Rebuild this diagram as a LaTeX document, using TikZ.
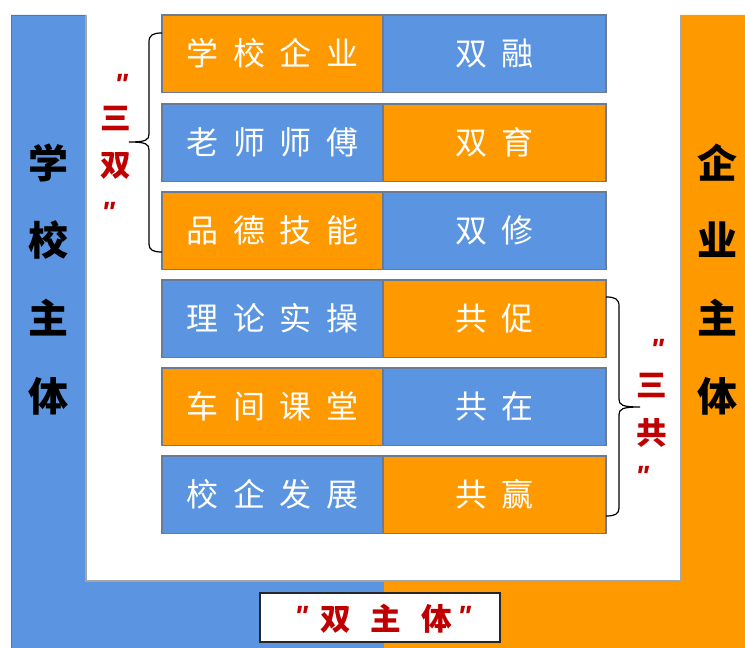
\documentclass[tikz,border=0pt]{standalone}
\usepackage{fontspec}
\newfontfamily\cjk{Noto Sans CJK SC}
\newfontfamily\qf{Liberation Sans}
\definecolor{myblue}{HTML}{5B95E1}
\definecolor{bluedark}{HTML}{4A78B8}
\definecolor{myorange}{HTML}{FF9900}
\definecolor{myred}{HTML}{C00000}
\definecolor{cellline}{HTML}{6B7B95}
\newcommand\sk{\hspace{11pt}}
\newcommand\skb{\hspace{15pt}}
\begin{document}
\begin{tikzpicture}[x=0.75pt,y=-0.75pt,
  cell/.style={draw=cellline, line width=1.1pt, inner sep=0pt, outer sep=0pt,
    minimum height=58pt, anchor=north west, text=white,
    font=\cjk\fontsize{24}{28}\selectfont},
  lcell/.style={cell, minimum width=165.75pt},
  rcell/.style={cell, minimum width=167.25pt},
  sidelabel/.style={inner sep=0pt, font=\cjk\bfseries\fontsize{30}{34}\selectfont, text=black},
  redlabel/.style={inner sep=0pt, font=\cjk\bfseries\fontsize{23}{26}\selectfont, text=myred},
  quotemark/.style={inner sep=0pt, anchor=north, font=\qf\bfseries\itshape\fontsize{22}{24}\selectfont, text=myred},
  bracestyle/.style={draw=black, line width=0.9pt}
]
\useasboundingbox (0,0) rectangle (745,648);
\fill[white] (0,0) rectangle (745,648);
% big L shapes
\fill[myblue, draw=bluedark, line width=0.6pt] (11,15) -- (86,15) -- (86,581) -- (384,581) -- (384,648) -- (11,648) -- cycle;
\fill[myorange] (681,15) -- (745,15) -- (745,648) -- (384,648) -- (384,581) -- (681,581) -- cycle;
\draw[gray!70, line width=0.8pt] (86,15) -- (86,581) -- (681,581) -- (681,15);

% rows
\foreach \ty/\lt/\rt/\lc/\rc [count=\i] in {
  15/{学\sk 校\sk 企\sk 业}/{双\sk 融}/myorange/myblue,
  104/{老\sk 师\sk 师\sk 傅}/{双\sk 育}/myblue/myorange,
  192/{品\sk 德\sk 技\sk 能}/{双\sk 修}/myorange/myblue,
  280/{理\sk 论\sk 实\sk 操}/{共\sk 促}/myblue/myorange,
  368/{车\sk 间\sk 课\sk 堂}/{共\sk 在}/myorange/myblue,
  456/{校\sk 企\sk 发\sk 展}/{共\sk 赢}/myblue/myorange}{
  \node[lcell, fill=\lc] (L\i) at (162,\ty) {\lt};
  \node[rcell, fill=\rc] (R\i) at (383,\ty) {\rt};
}

% side labels
\node[sidelabel] (s1) at (48,163) {学};
\node[sidelabel] (s2) at (48,240) {校};
\node[sidelabel] (s3) at (48,318) {主};
\node[sidelabel] (s4) at (48,396) {体};
\node[sidelabel] (e1) at (717,163) {企};
\node[sidelabel] (e2) at (717,240) {业};
\node[sidelabel] (e3) at (717,318) {主};
\node[sidelabel] (e4) at (717,396) {体};

% left brace "三双"
\coordinate (b1t) at (162,33);
\coordinate (b1b) at (162,252);
\coordinate (b1m) at (129,142);
\draw[bracestyle] (b1t) .. controls (153,33) and (149,35) .. (149,42) -- (149,134)
  .. controls (149,140) and (146,142) .. (b1m)
  .. controls (146,142) and (149,144) .. (149,150) -- (149,244)
  .. controls (149,250) and (153,252) .. (b1b);
\node[quotemark] (q1a) at (121,74) {"};
\node[redlabel] (t1) at (116,118) {三};
\node[redlabel] (t2) at (116,166) {双};
\node[quotemark] (q1b) at (108,202) {"};

% right brace "三共"
\coordinate (b2t) at (606,297);
\coordinate (b2b) at (606,516);
\coordinate (b2m) at (640,407);
\draw[bracestyle] (b2t) .. controls (615,297) and (619,299) .. (619,306) -- (619,399)
  .. controls (619,405) and (622,407) .. (b2m)
  .. controls (622,407) and (619,409) .. (619,415) -- (619,508)
  .. controls (619,514) and (615,516) .. (b2b);
\node[quotemark] (q2a) at (657,339) {"};
\node[redlabel] (t3) at (652,385) {三};
\node[redlabel] (t4) at (652,433) {共};
\node[quotemark] (q2b) at (642,466) {"};

% bottom box
\node[draw=black!85, line width=1.5pt, fill=white, inner sep=0pt,
  minimum width=180pt, minimum height=36.75pt] (bot) at (380,617.5) {};
\node[redlabel] (bt) at (386,618.5) {双\skb 主\skb 体};
\node[quotemark] (q3a) at (301,606) {"};
\node[quotemark] (q3b) at (464,606) {"};
\end{tikzpicture}
\end{document}
